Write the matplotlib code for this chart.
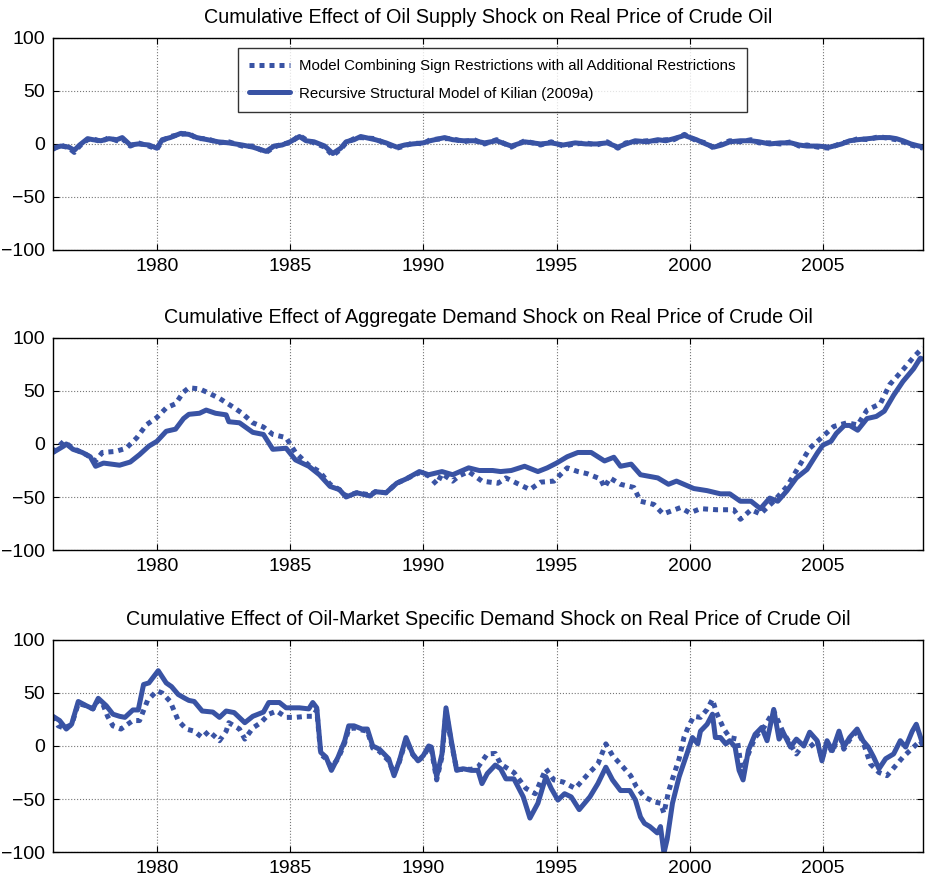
import matplotlib
matplotlib.use("Agg")
import matplotlib.pyplot as plt

plt.rcParams['font.family'] = ['Liberation Sans', 'DejaVu Sans']

# (year, cumulative effect) readings per series
supply_solid = [
    (1976.1, -4), (1976.4, -2), (1976.7, -3), (1976.9, -6), (1977.1, -1), (1977.4, 5),
    (1977.6, 4), (1977.9, 3), (1978.2, 5), (1978.5, 4), (1978.7, 6), (1979.0, -1),
    (1979.3, 0), (1979.7, -1), (1980.0, -4), (1980.2, 4), (1980.5, 6), (1980.9, 10),
    (1981.2, 9), (1981.5, 6), (1981.9, 4), (1982.3, 2), (1982.7, 1), (1983.2, -1),
    (1983.6, -3), (1984.1, -7), (1984.4, -2), (1984.7, -1), (1985.0, 2), (1985.35, 7),
    (1985.6, 3), (1985.9, 2), (1986.3, -2), (1986.6, -9), (1986.9, -4), (1987.1, 2),
    (1987.4, 4), (1987.65, 7), (1988.2, 4), (1988.6, 1), (1989.0, -3), (1989.3, -1),
    (1989.6, 0), (1990.0, 1), (1990.25, 3), (1990.8, 6), (1991.1, 4), (1991.5, 3),
    (1991.9, 3), (1992.3, 1), (1992.75, 3), (1993.3, -2), (1993.8, 2), (1994.4, 0),
    (1994.8, 1), (1995.25, -1), (1995.7, 1), (1996.1, 0), (1996.5, 0), (1996.9, 1),
    (1997.3, -3), (1997.6, 0), (1997.95, 3), (1998.4, 2), (1998.8, 4), (1999.1, 3),
    (1999.4, 5), (1999.8, 8), (2000.25, 4), (2000.6, 0), (2000.9, -3), (2001.2, -1),
    (2001.5, 2), (2001.9, 3), (2002.3, 3), (2002.6, 2), (2003.0, 0), (2003.4, 1),
    (2003.8, 1), (2004.1, -1), (2004.4, -2), (2004.8, -2), (2005.25, -3), (2005.7, 0),
    (2006.0, 3), (2006.3, 4), (2006.7, 5), (2007.1, 6), (2007.5, 6), (2007.75, 5),
    (2008.0, 3), (2008.3, 0), (2008.75, -3),
]
supply_dotted = [
    (1976.1, -5), (1976.4, -1), (1976.7, -4), (1976.9, -8), (1977.1, -2), (1977.4, 4),
    (1977.6, 5), (1977.9, 2), (1978.2, 6), (1978.5, 3), (1978.7, 5), (1979.0, -2),
    (1979.3, 1), (1979.7, -2), (1980.0, -5), (1980.2, 3), (1980.5, 7), (1980.9, 9),
    (1981.2, 10), (1981.5, 5), (1981.9, 5), (1982.3, 1), (1982.7, 2), (1983.2, -2),
    (1983.6, -2), (1984.1, -8), (1984.4, -3), (1984.7, 0), (1985.0, 1), (1985.35, 8),
    (1985.6, 4), (1985.9, 1), (1986.3, -3), (1986.6, -11), (1986.9, -5), (1987.1, 1),
    (1987.4, 5), (1987.65, 6), (1988.2, 5), (1988.6, 0), (1989.0, -4), (1989.3, -2),
    (1989.6, 1), (1990.0, 0), (1990.25, 4), (1990.8, 5), (1991.1, 5), (1991.5, 2),
    (1991.9, 4), (1992.3, 0), (1992.75, 4), (1993.3, -3), (1993.8, 3), (1994.4, -1),
    (1994.8, 2), (1995.25, -2), (1995.7, 0), (1996.1, 1), (1996.5, -1), (1996.9, 2),
    (1997.3, -4), (1997.6, 1), (1997.95, 2), (1998.4, 3), (1998.8, 3), (1999.1, 4),
    (1999.4, 4), (1999.8, 9), (2000.25, 3), (2000.6, 1), (2000.9, -4), (2001.2, 0),
    (2001.5, 3), (2001.9, 2), (2002.3, 4), (2002.6, 1), (2003.0, 1), (2003.4, 0),
    (2003.8, 2), (2004.1, -2), (2004.4, -1), (2004.8, -3), (2005.25, -4), (2005.7, 1),
    (2006.0, 2), (2006.3, 5), (2006.7, 4), (2007.1, 7), (2007.5, 5), (2007.75, 4),
    (2008.0, 2), (2008.3, -1), (2008.75, -4),
]

aggregate_solid = [
    (1976.1, -8), (1976.5, -2), (1976.6, 0), (1976.85, -5), (1977.2, -8), (1977.5, -12),
    (1977.7, -21), (1978.0, -18), (1978.3, -19), (1978.6, -20), (1979.0, -17), (1979.35, -10),
    (1979.7, -2), (1980.0, 2.5), (1980.35, 12), (1980.7, 14), (1981.0, 24), (1981.2, 28),
    (1981.6, 29), (1981.85, 32), (1982.2, 29), (1982.6, 27.5), (1982.7, 21), (1983.1, 20),
    (1983.6, 11), (1984.0, 9), (1984.35, -5), (1984.85, -4), (1985.2, -15), (1985.7, -21),
    (1986.1, -29), (1986.5, -40), (1986.85, -43), (1987.1, -50), (1987.5, -46), (1988.0, -49),
    (1988.2, -45), (1988.6, -46), (1989.0, -37), (1989.35, -33), (1989.85, -26), (1990.2, -29),
    (1990.7, -26), (1991.1, -29), (1991.7, -22.5), (1992.1, -25), (1992.6, -25), (1992.9, -26),
    (1993.3, -25), (1993.8, -21), (1994.3, -26), (1994.65, -22.5), (1995.0, -18), (1995.4, -12),
    (1995.8, -8), (1996.3, -8), (1996.8, -16), (1997.15, -12.5), (1997.4, -21), (1997.8, -19),
    (1998.15, -29), (1998.8, -32), (1999.2, -38), (1999.5, -35), (2000.15, -42), (2000.65, -44),
    (2001.15, -47), (2001.5, -47), (2001.9, -54), (2002.3, -54), (2002.65, -61), (2003.0, -51),
    (2003.3, -54), (2003.65, -44), (2004.0, -32), (2004.4, -24), (2004.8, -8), (2005.0, -1),
    (2005.3, 2.5), (2005.5, 10), (2005.8, 17.5), (2006.0, 17.5), (2006.3, 13), (2006.65, 24),
    (2007.0, 26), (2007.3, 31), (2007.65, 46), (2008.0, 59), (2008.4, 71), (2008.65, 81),
    (2008.75, 80),
]
aggregate_dotted = [
    (1976.1, -8), (1976.5, 2.5), (1976.85, -4), (1977.35, -10), (1977.7, -16), (1977.95, -8),
    (1978.45, -7), (1978.85, -4), (1979.25, 6), (1979.6, 18), (1980.0, 25), (1980.35, 34),
    (1980.7, 38), (1981.0, 49), (1981.2, 53), (1981.6, 52), (1981.95, 48), (1982.35, 43),
    (1982.85, 35), (1983.2, 29), (1983.6, 20), (1984.0, 16), (1984.35, 9), (1984.85, 6),
    (1985.2, -8), (1985.7, -20), (1986.1, -26), (1986.5, -38), (1986.85, -43), (1987.1, -49),
    (1987.5, -46), (1988.0, -48), (1988.2, -45), (1988.6, -46), (1989.0, -37), (1989.35, -33),
    (1989.85, -27), (1990.2, -30), (1990.5, -38), (1990.7, -28), (1991.1, -35), (1991.35, -30),
    (1991.7, -26), (1992.2, -35), (1992.8, -37), (1993.1, -32), (1994.0, -43), (1994.4, -36),
    (1994.9, -35), (1995.4, -22.5), (1995.8, -26), (1996.15, -28), (1996.65, -33), (1996.8, -41),
    (1997.0, -32), (1997.4, -38), (1997.9, -41), (1998.15, -54), (1998.65, -57), (1999.0, -66),
    (1999.65, -60), (2000.0, -65), (2000.4, -61), (2001.0, -62), (2001.65, -62), (2001.9, -71),
    (2002.3, -62), (2002.65, -66), (2003.15, -54), (2003.65, -40), (2004.1, -21), (2004.5, -4),
    (2004.9, 5), (2005.4, 16.5), (2005.9, 20), (2006.3, 18), (2006.65, 32), (2007.15, 38),
    (2007.5, 56), (2008.0, 70), (2008.4, 82), (2008.75, 91),
]

specific_solid = [
    (1976.1, 28), (1976.35, 24), (1976.6, 16), (1976.8, 20.5), (1977.05, 42), (1977.35, 38),
    (1977.6, 35), (1977.8, 45), (1978.1, 38), (1978.35, 30), (1978.6, 28), (1978.8, 27),
    (1979.1, 34), (1979.3, 34), (1979.5, 58), (1979.7, 59.5), (1980.05, 71), (1980.35, 59.5),
    (1980.55, 56), (1980.8, 48.6), (1981.05, 45), (1981.2, 43), (1981.4, 42), (1981.7, 33),
    (1982.1, 32), (1982.35, 27), (1982.6, 33), (1982.9, 31.5), (1983.3, 22), (1983.6, 28),
    (1984.0, 32), (1984.2, 41), (1984.6, 41), (1984.85, 36), (1985.35, 36), (1985.7, 35),
    (1985.85, 41), (1986.0, 36), (1986.15, -6), (1986.35, -10.5), (1986.55, -23), (1986.8, -10.5),
    (1987.05, 5), (1987.2, 19), (1987.4, 19), (1987.7, 16), (1987.9, 16), (1988.1, 0),
    (1988.35, -3), (1988.7, -12), (1988.9, -28), (1989.1, -14), (1989.35, 8), (1989.6, -7.5),
    (1989.8, -14), (1990.0, -9), (1990.2, 0), (1990.3, -1), (1990.5, -29), (1990.7, -7.5),
    (1990.85, 36), (1991.05, 5), (1991.25, -23), (1991.5, -21.5), (1991.8, -23), (1992.05, -23),
    (1992.2, -35.5), (1992.4, -26), (1992.7, -18), (1992.9, -21.5), (1993.1, -31), (1993.4, -31),
    (1993.75, -48), (1994.0, -68), (1994.3, -54), (1994.6, -29), (1994.8, -40), (1995.05, -51),
    (1995.3, -45), (1995.55, -48), (1995.85, -60), (1996.25, -48), (1996.55, -35.5), (1996.85, -20),
    (1997.1, -32), (1997.4, -42), (1997.75, -42), (1997.96, -51), (1998.15, -67), (1998.3, -73),
    (1998.5, -76), (1998.78, -82), (1998.9, -76), (1999.03, -101), (1999.15, -88), (1999.35, -54),
    (1999.6, -29), (1999.85, -10.5), (2000.1, 8), (2000.3, 2), (2000.4, 14), (2000.65, 20.5),
    (2000.85, 30), (2000.96, 8), (2001.15, 8), (2001.35, 2), (2001.5, 5), (2001.7, -1),
    (2001.85, -23), (2002.0, -32), (2002.2, -4), (2002.45, 11), (2002.7, 17.5), (2002.9, 5),
    (2003.15, 34.5), (2003.35, 6.5), (2003.5, 13), (2003.78, -1), (2004.0, 6.5), (2004.28, 0),
    (2004.5, 13), (2004.78, 5), (2004.96, -14), (2005.15, 5), (2005.35, -4.4), (2005.6, 14),
    (2005.78, -1), (2006.0, 8), (2006.28, 16), (2006.5, 5), (2006.7, -1), (2006.9, -10.5),
    (2007.1, -21.5), (2007.35, -12), (2007.65, -7.5), (2007.9, 5), (2008.1, -1), (2008.35, 14),
    (2008.5, 20.5), (2008.7, 5), (2008.75, 2),
]
specific_dotted = [
    (1976.1, 28), (1976.3, 19), (1976.5, 17), (1976.8, 20), (1977.05, 40), (1977.35, 38),
    (1977.6, 35), (1977.8, 43), (1977.95, 41), (1978.15, 28), (1978.35, 19), (1978.65, 16),
    (1979.1, 24), (1979.35, 24), (1979.65, 43), (1980.0, 52), (1980.2, 50), (1980.5, 42),
    (1980.8, 24), (1981.1, 16), (1981.4, 14), (1981.7, 8), (1981.95, 14), (1982.35, 5),
    (1982.6, 14), (1982.7, 22), (1983.1, 16), (1983.3, 6.5), (1983.6, 17), (1983.9, 22),
    (1984.2, 30), (1984.5, 33), (1984.85, 27), (1985.2, 27), (1985.6, 28), (1985.85, 28),
    (1986.0, 34), (1986.15, -8), (1986.35, -12), (1986.55, -20), (1986.8, -12), (1987.05, 3),
    (1987.2, 16), (1987.4, 17), (1987.7, 15), (1987.9, 14), (1988.1, -2), (1988.35, -5),
    (1988.7, -14), (1988.9, -26), (1989.1, -15), (1989.35, 6), (1989.6, -8), (1989.8, -14),
    (1990.0, -10), (1990.2, -1), (1990.3, -3), (1990.5, -32), (1990.7, -10), (1990.85, 32),
    (1991.05, 3), (1991.25, -22), (1991.5, -22), (1991.8, -22), (1992.05, -20), (1992.4, -7.5),
    (1992.7, -7), (1992.9, -17), (1993.4, -25), (1993.85, -40), (1994.2, -45), (1994.6, -21.5),
    (1994.9, -32), (1995.25, -34), (1995.7, -40), (1996.2, -26), (1996.55, -17), (1996.85, 2),
    (1997.1, -9), (1997.5, -20), (1997.78, -28), (1998.0, -38.6), (1998.3, -48), (1998.65, -52.6),
    (1998.9, -54), (1999.03, -63.5), (1999.2, -43), (1999.35, -31), (1999.6, -12), (1999.78, 8),
    (1999.96, 19), (2000.15, 28), (2000.4, 27), (2000.65, 34.5), (2000.85, 44), (2001.0, 31.5),
    (2001.28, 16), (2001.5, 8), (2001.78, 6.5), (2001.96, -26), (2002.15, -10.5), (2002.45, 8),
    (2002.78, 17.5), (2003.15, 33), (2003.5, 13), (2004.0, -7.5), (2004.28, 2), (2004.5, -1),
    (2004.78, 5), (2004.96, -12), (2005.15, 3), (2005.35, -6), (2005.6, 12), (2005.78, -3),
    (2006.0, 6), (2006.28, 14), (2006.5, 4), (2006.78, -17), (2007.1, -25), (2007.4, -28),
    (2007.78, -17), (2008.0, -10.5), (2008.4, -1), (2008.65, 5), (2008.75, 0),
]

titles = [
    "Cumulative Effect of Oil Supply Shock on Real Price of Crude Oil",
    "Cumulative Effect of Aggregate Demand Shock on Real Price of Crude Oil",
    "Cumulative Effect of Oil-Market Specific Demand Shock on Real Price of Crude Oil",
]
legend_labels = [
    "Model Combining Sign Restrictions with all Additional Restrictions",
    "Recursive Structural Model of Kilian (2009a)",
]
panels = [
    (supply_dotted, supply_solid),
    (aggregate_dotted, aggregate_solid),
    (specific_dotted, specific_solid),
]
xticks = [1980, 1985, 1990, 1995, 2000, 2005]
yticks = [-100, -50, 0, 50, 100]

color = "#3953a4"
fig = plt.figure(figsize=(9.26, 8.82), dpi=100)
bottoms = [0.7166, 0.3764, 0.034]

for i, (dotted, solid) in enumerate(panels):
    ax = fig.add_axes([0.0572, bottoms[i], 0.9395, 0.2404])
    xd, yd = zip(*dotted)
    xs, ys = zip(*solid)
    ax.plot(xd, yd, color=color, lw=3.6, linestyle=(0, (1, 1)),
            dash_capstyle="butt", label=legend_labels[0])
    ax.plot(xs, ys, color=color, lw=3.6, solid_capstyle="round",
            label=legend_labels[1])
    ax.set_xlim(1976.1, 2008.75)
    ax.set_ylim(-100, 100)
    ax.set_xticks(xticks)
    ax.set_yticks(yticks)
    ax.grid(True, color="#777777", linestyle=":", lw=0.8)
    ax.tick_params(direction="in", top=True, right=True, length=4, width=0.8,
                   labelsize=14, pad=6)
    for sp in ax.spines.values():
        sp.set_linewidth(1.0)
    ax.set_title(titles[i], fontsize=14.2, pad=11)
    if i == 0:
        leg = ax.legend(loc="upper left", bbox_to_anchor=(0.2126, 0.953),
                        borderaxespad=0, fontsize=10.8, frameon=True,
                        fancybox=False, edgecolor="black", handlelength=2.75,
                        handletextpad=0.6, borderpad=0.75, labelspacing=0.9)
        leg.get_frame().set_linewidth(1.0)

fig.savefig("out.png", dpi=100)
